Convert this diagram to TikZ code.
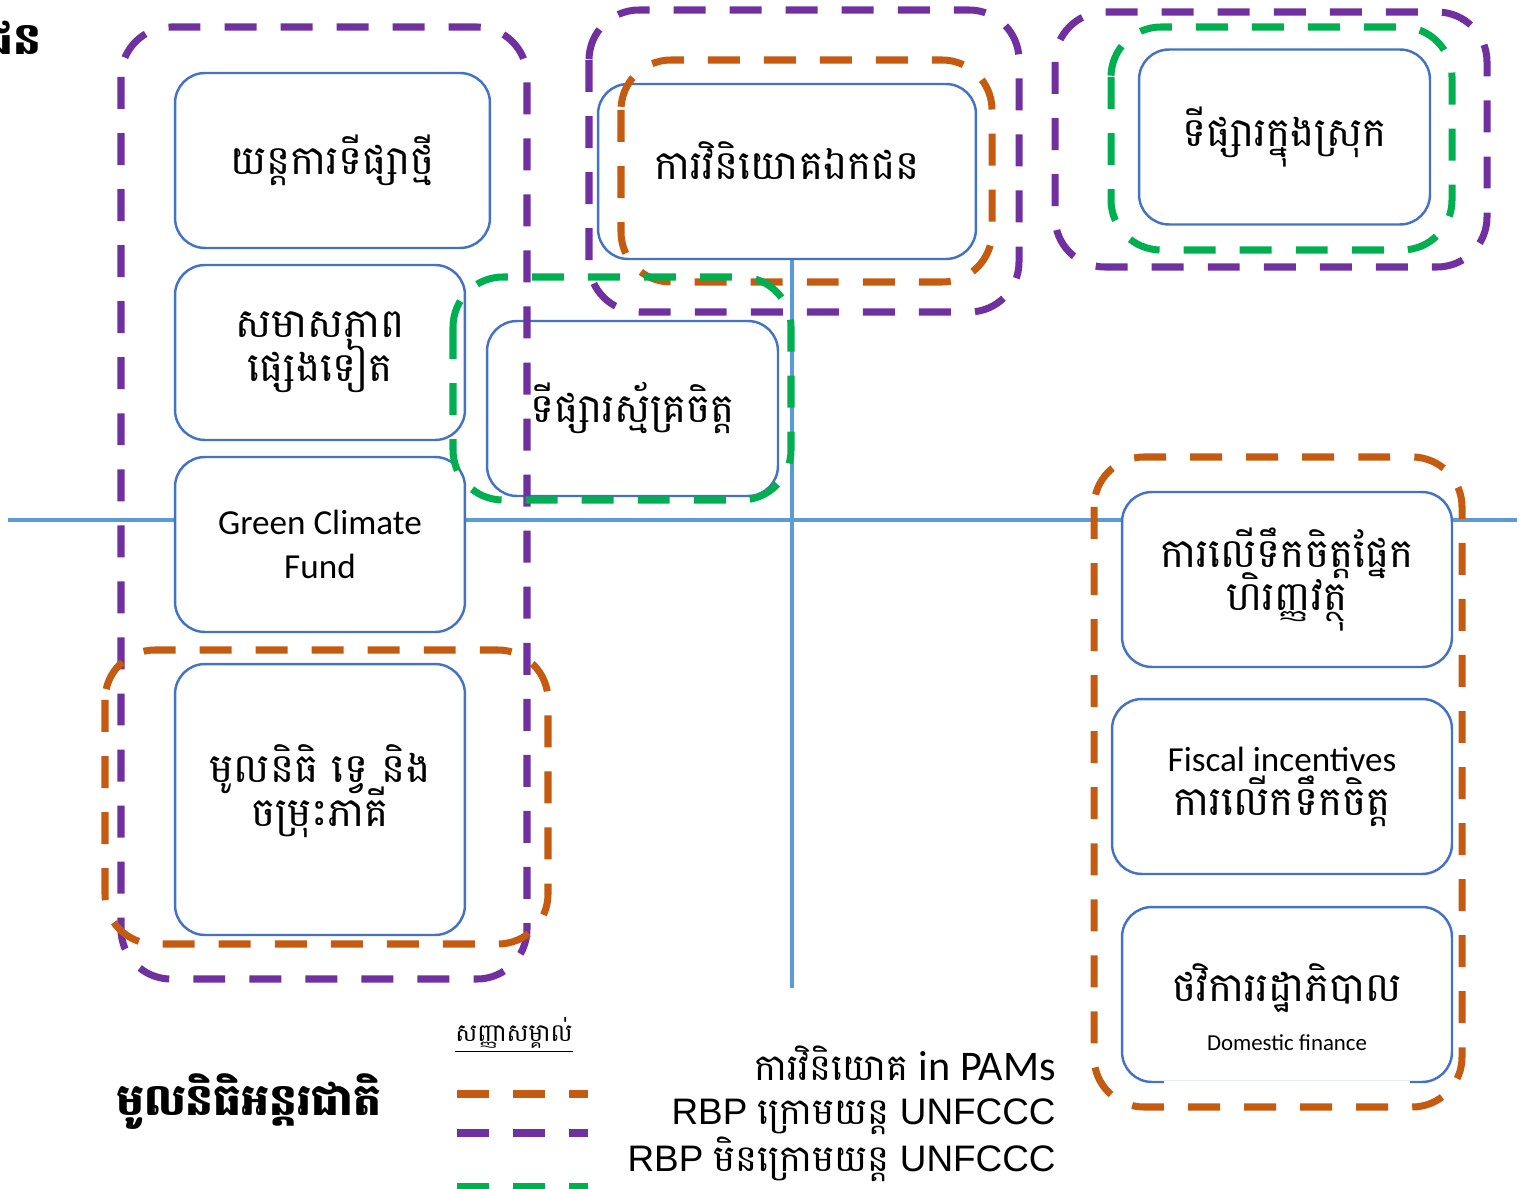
\documentclass[tikz,border=0pt]{standalone}
\usepackage{fontspec}
\setmainfont{Carlito}
\newfontfamily\km[Script=Khmer]{Battambang}
\newfontfamily\arl{Liberation Sans}
\newfontfamily\clb{Carlito}
\newcommand\kmc{\km\fontsize{23}{25}\selectfont}
\usetikzlibrary{backgrounds}
\definecolor{purp}{HTML}{7030A0}
\definecolor{orng}{HTML}{C55A11}
\definecolor{grn}{HTML}{00B050}
\definecolor{cardblue}{HTML}{4472C4}
\definecolor{axisblue}{HTML}{5B9BD5}
\tikzset{card/.style={draw=cardblue,line width=1.4pt,fill=white,rounded corners=0.6cm,
    minimum height=3.5cm,align=center,inner sep=0pt,
    font=\fontsize{20}{25}\selectfont,execute at begin node={\lineskiplimit=-30pt}},
  grp/.style={line width=4pt,dash pattern=on 18.2pt off 13.7pt,rounded corners=1cm},
  axisline/.style={axisblue,line width=2.5pt}}

\begin{document}
\begin{tikzpicture}[x=0.02cm,y=-0.02cm]
  \clip (0,0) rectangle (1524,1189);
  % boxes
  \node[card,minimum width=6.3cm] (newmkt) at (332.5,160.5) {\kmc យន្តការទីផ្សាថ្មី};
  \node[card,minimum width=5.8cm] (others) at (320,352.5) {\kmc សមាសភាព\\\kmc ផ្សេងទៀត};
  \node[card,minimum width=5.8cm] (gcf) at (320,544.5) {Green Climate\\Fund};
  \node[card,minimum width=5.8cm,minimum height=5.42cm] (multi) at (320,799.5)
    {\kmc មូលនិធិ ទ្វេ និង\\\kmc ចម្រុះភាគី\rule[-16pt]{0pt}{0pt}};
  \node[card,minimum width=5.82cm] (volmkt) at (632.5,408.5) {\kmc ទីផ្សារស្ម័គ្រចិត្ត};
  \node[card,minimum width=7.56cm] (private) at (787,171.5)
    {\raisebox{12pt}{\kmc ការវិនិយោគឯកជន}};
  \node[card,minimum width=5.82cm] (dommkt) at (1284.5,137) {\kmc ទីផ្សារក្នុងស្រុក};
  \node[card,minimum width=6.6cm] (fininc) at (1287,579.5)
    {\kmc ការលើទឹកចិត្តផ្នែក\\\kmc ហិរញ្ញវត្ថុ};
  \node[card,minimum width=6.8cm] (fiscal) at (1282,786.5)
    {Fiscal incentives\\\kmc ការលើកទឹកចិត្ត};
  \node[card,minimum width=6.6cm] (budget) at (1287,994.5) {};
  \node[align=center,inner sep=0pt,font=\fontsize{13}{28}\selectfont] (budgettxt)
    at ([yshift=-0.25cm]budget.center)
    {{\kmc ថវិការរដ្ឋាភិបាល}\\Domestic finance};
  \draw[white,line width=3pt] ([xshift=-2.47cm]budget.south) -- ([xshift=2.47cm]budget.south);
  % axes
  \coordinate (hl) at (8,520);
  \coordinate (hr) at (1517,520);
  \coordinate (vb) at (792,988);
  \begin{scope}[on background layer]
    \draw[axisline] (hl) -- (hr);
    \draw[axisline] (private.south -| vb) -- (vb);
  \end{scope}
  % groups
  \foreach \c/\xa/\ya/\xb/\yb in {purp/121/27/527/979, purp/589/10/1019/312,
      purp/1055/12/1487/267, orng/621/60/992/282, orng/105/650/548/944,
      orng/1094/457/1462/1107, grn/453/277/791/500, grn/1111/27/1452/250}
    {\draw[grp,\c] (\xa,\ya) rectangle (\xb,\yb);}
  % titles and key
  \node[anchor=east,inner sep=0pt,font=\km\bfseries\fontsize{25}{30}\selectfont] (cut)
    at (42,38) {ជន};
  \node[anchor=west,font=\km\bfseries\fontsize{25}{30}\selectfont] (intl) at (110,1102)
    {មូលនិធិអន្តរជាតិ};
  \node[anchor=west,font=\km\fontsize{14}{16}\selectfont,inner sep=0pt] (key) at (455,1035)
    {\underline{សញ្ញាសម្គាល់}};
  \foreach \c/\y in {orng/1094,purp/1133,grn/1187}
    {\draw[grp,\c] (457,\y) -- (588,\y);}
  \node[anchor=east,align=right,inner sep=0pt,font=\arl\fontsize{21}{25}\selectfont] (legtxt)
    at (1056,1114)
    {{\km ការវិនិយោគ} {\clb\fontsize{24}{25}\selectfont in PAMs}\\
     RBP {\km ក្រោមយន្ត} UNFCCC\\
     RBP {\km មិនក្រោមយន្ត} UNFCCC};
\end{tikzpicture}
\end{document}
